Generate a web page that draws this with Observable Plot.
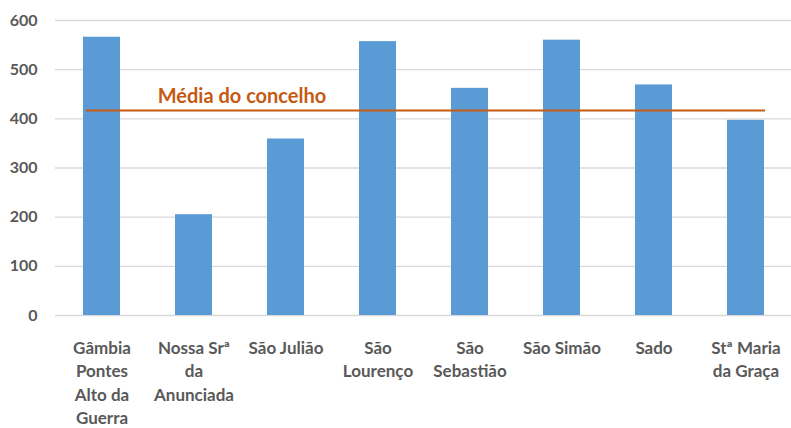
<!DOCTYPE html>
<html><head><meta charset="utf-8">
<script src="https://cdn.jsdelivr.net/npm/d3@7"></script>
<script src="https://cdn.jsdelivr.net/npm/@observablehq/plot@0.6"></script>
<style>body{margin:0;background:#fff;}</style>
</head><body><div id="chart"></div>
<script>
const categories = ["Gâmbia\nPontes\nAlto da\nGuerra", "Nossa Srª\nda\nAnunciada", "São Julião", "São\nLourenço", "São\nSebastião", "São Simão", "Sado", "Stª Maria\nda Graça"];
const values = [566, 205, 359, 557, 462, 560, 469, 397];
const average = 417;
const averageLabel = "Média do concelho";
const yTicks = [0, 100, 200, 300, 400, 500, 600];

const data = categories.map((c, i) => ({category: c, value: values[i]}));

const chart = Plot.plot({
  width: 791, height: 428,
  marginTop: 20, marginBottom: 113, marginLeft: 55, marginRight: 0,
  style: {fontFamily: "Lato, sans-serif", background: "#fff", color: "#595959"},
  x: {domain: categories, paddingInner: 0.6, paddingOuter: 0.3, label: null},
  y: {domain: [0, 600], label: null},
  marks: [
    Plot.gridY(yTicks, {stroke: "#d9d9d9", strokeOpacity: 1, strokeWidth: 1.3}),
    Plot.barY(data, {x: "category", y: "value", fill: "#5b9bd5"}),
    Plot.ruleY([average], {x1: [categories[0]], x2: [categories[categories.length - 1]], insetLeft: 3, insetRight: -1, stroke: "#c55a11", strokeWidth: 2}),
    Plot.text([averageLabel], {x: [categories[1]], y: [average], text: d => d, fill: "#c55a11", fontWeight: "bold", fontSize: 20, lineAnchor: "bottom", dy: -7, dx: 48}),
    Plot.axisY(yTicks, {tickSize: 0, tickPadding: 18, fontSize: 16, fontWeight: "bold"}),
    Plot.axisX({tickSize: 0, tickPadding: 22, fontSize: 17, fontWeight: "bold", lineHeight: 1.37, lineAnchor: "top"})
  ]
});
document.getElementById("chart").append(chart);
</script>
</body></html>
